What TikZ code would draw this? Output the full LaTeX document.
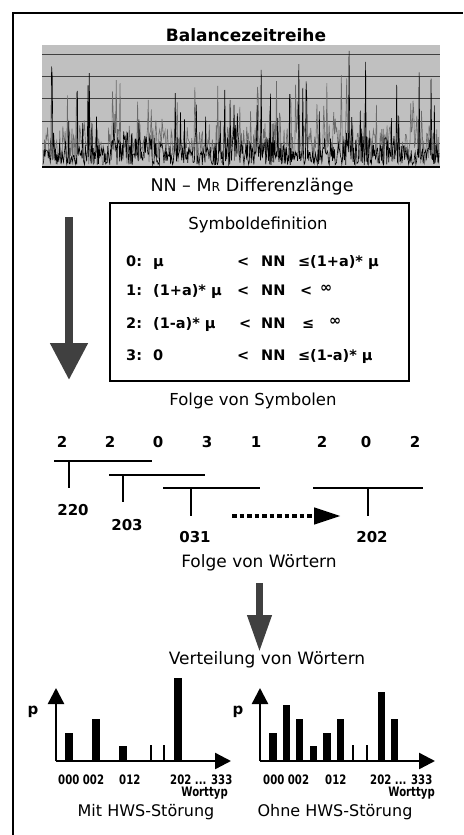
\documentclass[tikz,border=0pt]{standalone}
\usepackage{fontspec}
\setmainfont{DejaVu Sans}
\newfontfamily\narrowfont[FakeStretch=0.78]{DejaVu Sans}
\usetikzlibrary{arrows.meta}
\definecolor{dk}{HTML}{404040}
\definecolor{chartbg}{HTML}{C0C0C0}
\definecolor{sig}{HTML}{6A6A6A}
\begin{document}
\begin{tikzpicture}[x=1pt,y=-1pt,
  lbl/.style={inner sep=0pt,font=\fontsize{17}{20}\selectfont},
  rowtxt/.style={inner sep=0pt,anchor=base west,font=\bfseries\fontsize{14.5}{17}\selectfont},
  digit/.style={inner sep=0pt,font=\bfseries\fontsize{15}{18}\selectfont},
  small/.style={inner sep=0pt,anchor=base west,font=\narrowfont\bfseries\fontsize{13}{15}\selectfont},
  brk/.style={line width=2pt},
  bigarrow/.style={draw=dk,line width=8pt},
  axis/.style={line width=2.4pt,-{Triangle[length=16pt,width=16pt]}},
  bar/.style={fill=black}]
\useasboundingbox (0,0) rectangle (463,835);
% frame
\draw[line width=2pt] (13,835) -- (13,13) -- (463,13);
% title
\node[lbl,font=\bfseries\fontsize{17}{19}\selectfont] (title) at (246,35) {Balancezeitreihe};
% chart
\fill[chartbg] (42,45) rectangle (440,166);
\foreach \gy in {54,76,98,121,143} \draw[dk,line width=0.9pt] (42,\gy) -- (440,\gy);
\begin{scope}
\clip (42,45) rectangle (440,166);
\pgfmathsetseed{11}
\draw[sig,line width=0.6pt] plot[domain=43:439,samples=520]
  (\x,{165 - 40*rnd - 55*rnd^12});
\pgfmathsetseed{5}
\draw[black,line width=0.6pt] plot[domain=43:439,samples=600]
  (\x,{165 - (24+8*sin(\x*3.1+40))*rnd^1.3 - 100*rnd^22});
\end{scope}
\draw[black,line width=2pt] (42,167) -- (440,167);
\node[lbl,font=\fontsize{17.5}{20}\selectfont] (nnmr) at (252,187) {NN – M{\fontsize{12.5}{14}\selectfont R} Differenzlänge};
% big arrow 1
\coordinate (a1s) at (69,217);
\coordinate (a1e) at (69,380);
\draw[bigarrow,-{Triangle[length=37pt,width=36pt]}] (a1s) -- (a1e);
% symbol box
\draw[line width=2pt] (110,203) rectangle (409,381);
\node[lbl,font=\fontsize{16.5}{19}\selectfont] (symdef) at (258,225) {Symboldefinition};
% row 0
\node[rowtxt] (r0a) at (126,266) {0:};
\node[rowtxt] (r0b) at (153,266) {μ};
\node[rowtxt] (r0c) at (237,266) {<};
\node[rowtxt] (r0d) at (261,266) {NN};
\node[rowtxt] (r0e) at (298,266) {≤};
\node[rowtxt] (r0f) at (310,266) {(1+a)* μ};
% row 1
\node[rowtxt] (r1a) at (126,295) {1:};
\node[rowtxt] (r1b) at (153,295) {(1+a)* μ};
\node[rowtxt] (r1c) at (237,295) {<};
\node[rowtxt] (r1d) at (261,295) {NN};
\node[rowtxt] (r1e) at (300,295) {<};
\node[rowtxt] (r1f) at (320,292) {∞};
% row 2
\node[rowtxt] (r2a) at (126,328) {2:};
\node[rowtxt] (r2b) at (153,328) {(1-a)*\ μ};
\node[rowtxt] (r2c) at (239,328) {<};
\node[rowtxt] (r2d) at (261,328) {NN};
\node[rowtxt] (r2e) at (302,328) {≤};
\node[rowtxt] (r2f) at (329,325) {∞};
% row 3
\node[rowtxt] (r3a) at (126,360) {3:};
\node[rowtxt] (r3b) at (153,360) {0};
\node[rowtxt] (r3c) at (237,360) {<};
\node[rowtxt] (r3d) at (261,360) {NN};
\node[rowtxt] (r3e) at (298,360) {≤};
\node[rowtxt] (r3f) at (310,360) {(1-a)*\ μ};
% folge von symbolen
\node[lbl,font=\fontsize{16.5}{19}\selectfont] (fvs) at (253,401) {Folge von Symbolen};
\node[digit] (d1) at (62,442) {2};
\node[digit] (d2) at (110,442) {2};
\node[digit] (d3) at (158,442) {0};
\node[digit] (d4) at (207,442) {3};
\node[digit] (d5) at (256,442) {1};
\node[digit] (d6) at (322,442) {2};
\node[digit] (d7) at (366,442) {0};
\node[digit] (d8) at (415,442) {2};
% brackets
\coordinate (b1l) at (54,461); \coordinate (b1r) at (152,461);
\coordinate (b1t) at (69,461); \coordinate (b1b) at (69,488);
\draw[brk] (b1l) -- (b1r); \draw[brk] (b1t) -- (b1b);
\node[digit] (w1) at (73,510) {220};
\coordinate (b2l) at (109,475); \coordinate (b2r) at (205,475);
\coordinate (b2t) at (123,475); \coordinate (b2b) at (123,502);
\draw[brk] (b2l) -- (b2r); \draw[brk] (b2t) -- (b2b);
\node[digit] (w2) at (127,525) {203};
\coordinate (b3l) at (163,488); \coordinate (b3r) at (260,488);
\coordinate (b3t) at (191,488); \coordinate (b3b) at (191,516);
\draw[brk] (b3l) -- (b3r); \draw[brk] (b3t) -- (b3b);
\node[digit] (w3) at (195,537) {031};
\coordinate (b4l) at (313,488); \coordinate (b4r) at (423,488);
\coordinate (b4t) at (368,488); \coordinate (b4b) at (368,516);
\draw[brk] (b4l) -- (b4r); \draw[brk] (b4t) -- (b4b);
\node[digit] (w4) at (372,537) {202};
% dotted arrow
\coordinate (da1) at (232,516);
\coordinate (da2) at (341,516);
\draw[line width=4.5pt,dash pattern=on 4.5pt off 3pt,-{Triangle[length=27pt,width=16pt]}] (da1) -- (da2);
\node[lbl] (fvw) at (259,563) {Folge von Wörtern};
% big arrow 2
\coordinate (a2s) at (259.5,583);
\coordinate (a2e) at (259.5,652);
\draw[bigarrow,line width=7pt,-{Triangle[length=37pt,width=23pt]}] (a2s) -- (a2e);
\node[lbl] (vvw) at (267,660) {Verteilung von Wörtern};
% left chart
\coordinate (lo) at (56,761);
\coordinate (ly) at (56,688);
\coordinate (lx) at (231,761);
\draw[axis] (lo) -- (ly);
\draw[axis] (lo) -- (lx);
\node[digit] (lp) at (33,712) {p};
\fill[bar] (65,761) rectangle (73,733);
\fill[bar] (92,761) rectangle (100,719);
\fill[bar] (119,761) rectangle (127,746);
\draw[line width=2pt] (151,761) -- (151,745);
\draw[line width=2pt] (164,761) -- (164,745);
\fill[bar] (174,761) rectangle (182,678);
\node[small] (l000) at (58,784) {000 002};
\node[small] (l012) at (119,784) {012};
\node[small] (l202) at (170,784) {202 ... 333};
\node[small,anchor=base east] (lwt) at (228,796) {Worttyp};
\node[lbl,font=\fontsize{16}{18}\selectfont] (mit) at (146,812) {Mit HWS-Störung};
% right chart
\coordinate (ro) at (260,761);
\coordinate (ry) at (260,688);
\coordinate (rx) at (435,761);
\draw[axis] (ro) -- (ry);
\draw[axis] (ro) -- (rx);
\node[digit] (rp) at (238,712) {p};
\fill[bar] (269,761) rectangle (277,733);
\fill[bar] (283,761) rectangle (290,705);
\fill[bar] (296,761) rectangle (303,719);
\fill[bar] (310,761) rectangle (317,746);
\fill[bar] (323,761) rectangle (331,733);
\fill[bar] (337,761) rectangle (344,719);
\draw[line width=2pt] (353,761) -- (353,745);
\draw[line width=2pt] (367,761) -- (367,745);
\fill[bar] (378,761) rectangle (385,692);
\fill[bar] (391,761) rectangle (398,719);
\node[small] (r000) at (263,784) {000 002};
\node[small] (r012) at (325,784) {012};
\node[small] (r202) at (370,784) {202 ... 333};
\node[small,anchor=base east] (rwt) at (435,796) {Worttyp};
\node[lbl,font=\fontsize{16}{18}\selectfont] (ohne) at (335,812) {Ohne HWS-Störung};
\end{tikzpicture}
\end{document}
